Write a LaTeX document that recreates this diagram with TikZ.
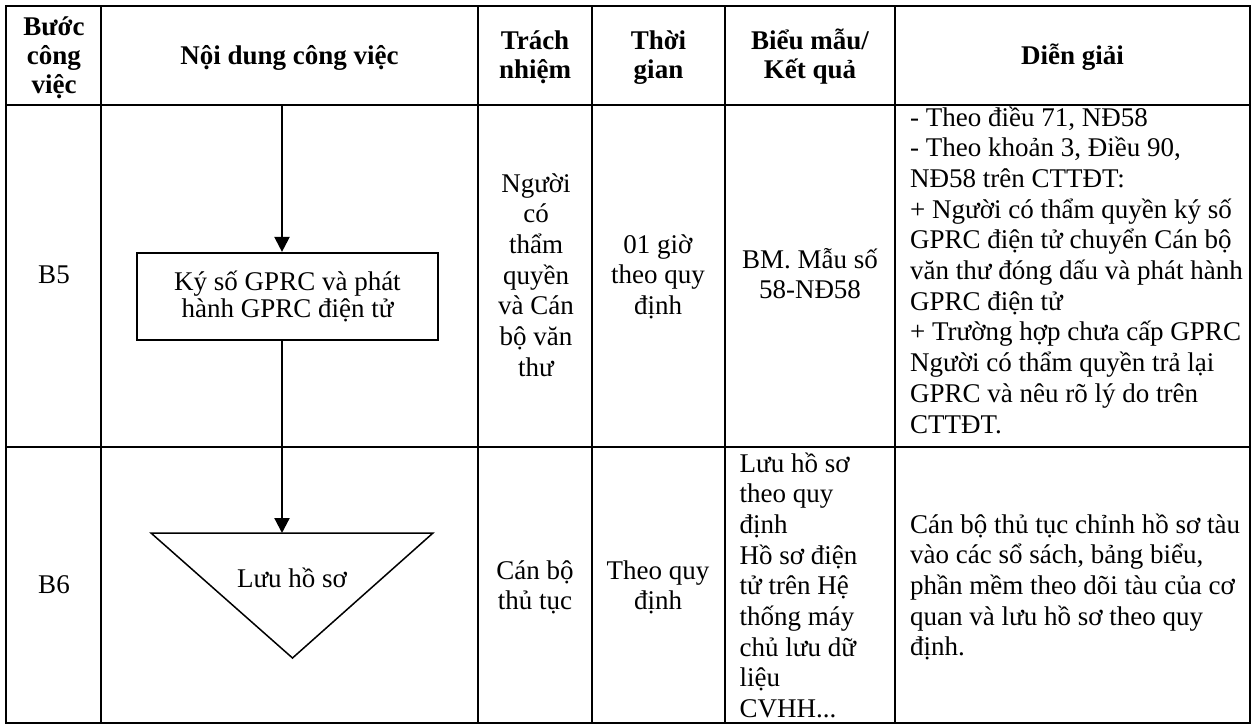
\documentclass[tikz,border=0pt]{standalone}
\usepackage{fontspec}
\setmainfont{Liberation Serif}
\usetikzlibrary{arrows.meta}

\tikzset{
	cell/.style={align=center, inner sep=0pt, anchor=base},
	lcell/.style={align=left, inner sep=0pt, anchor=base west},
	head/.style={cell, font=\fontsize{27}{29}\selectfont\bfseries},
	grid/.style={line width=2.5pt},
	flow/.style={line width=2.2pt, -{Triangle[length=15pt,width=15pt]}},
}

\begin{document}
\begin{tikzpicture}[x=1pt, y=-1pt, font=\fontsize{27}{30.7}\selectfont]
		\useasboundingbox (0,0) rectangle (1255,724);
		% Draw the table grid
		\draw[grid] (6,6) rectangle (1250,723);
		\foreach \x in {101, 478, 592, 725, 895}
			\draw[grid] (\x,6) -- (\x,723);
		\foreach \y in {105, 447}
			\draw[grid] (6,\y) -- (1250,\y);

		% Header row (nodes sit on the baseline of their last line)
		\node[head] (hbuoc) at (54,93) {Bước\\công\\việc};
		\node[head] (hnoidung) at (289.5,64) {Nội dung công việc};
		\node[head] (htrach) at (535,78.5) {Trách\\nhiệm};
		\node[head] (hthoi) at (658.5,78.5) {Thời\\gian};
		\node[head] (hbieu) at (810,78.5) {Biểu mẫu/\\Kết quả};
		\node[head] (hdien) at (1072.5,64) {Diễn giải};

		% Row B5
		\node[cell] (b5) at (54,283) {B5};
		\node[cell] (b5trach) at (536,376.2) {Người\\có\\thẩm\\quyền\\và Cán\\bộ văn\\thư};
		\node[cell] (b5thoi) at (658,314.4) {01 giờ\\theo quy\\định};
		\node[cell] (b5bieu) at (810,298.7) {BM. Mẫu số\\58-NĐ58};
		\node[lcell] (b5dien) at (910,433) {- Theo điều 71, NĐ58\\- Theo khoản 3, Điều 90,\\NĐ58 trên CTTĐT:\\+ Người có thẩm quyền ký số\\GPRC điện tử chuyển Cán bộ\\văn thư đóng dấu và phát hành\\GPRC điện tử\\+ Trường hợp chưa cấp GPRC\\Người có thẩm quyền trả lại\\GPRC và nêu rõ lý do trên\\CTTĐT.};

		% Row B6
		\node[cell] (b6) at (54,593) {B6};
		\node[cell] (b6trach) at (535,609.7) {Cán bộ\\thủ tục};
		\node[cell] (b6thoi) at (658,609.7) {Theo quy\\định};
		\node[lcell] (b6bieu) at (739.5,717.6) {Lưu hồ sơ\\theo quy\\định\\Hồ sơ điện\\tử trên Hệ\\thống máy\\chủ lưu dữ\\liệu\\CVHH...};
		\node[lcell] (b6dien) at (910,655.8) {Cán bộ thủ tục chỉnh hồ sơ tàu\\vào các sổ sách, bảng biểu,\\phần mềm theo dõi tàu của cơ\\quan và lưu hồ sơ theo quy\\định.};

		% Flow chart
		\coordinate (start) at (282,105);
		\node[draw, line width=2.2pt, align=center, inner sep=0pt, minimum width=301pt, minimum height=87pt,
			font=\fontsize{27}{27}\selectfont] (kyso) at (287.5,296.5) {Ký số GPRC và phát\\hành GPRC điện tử};
		\coordinate (tl) at (151,533);
		\coordinate (tr) at (433,533);
		\coordinate (tb) at (292.5,658);
		\draw[line width=1.5pt, line join=miter] (tl) -- (tr) -- (tb) -- cycle;
		\node[cell] (luu) at (292,587) {Lưu hồ sơ};
		\draw[flow] (start) -- (start |- kyso.north);
		\draw[flow] (start |- kyso.south) -- (start |- tl);
	\end{tikzpicture}
\end{document}
